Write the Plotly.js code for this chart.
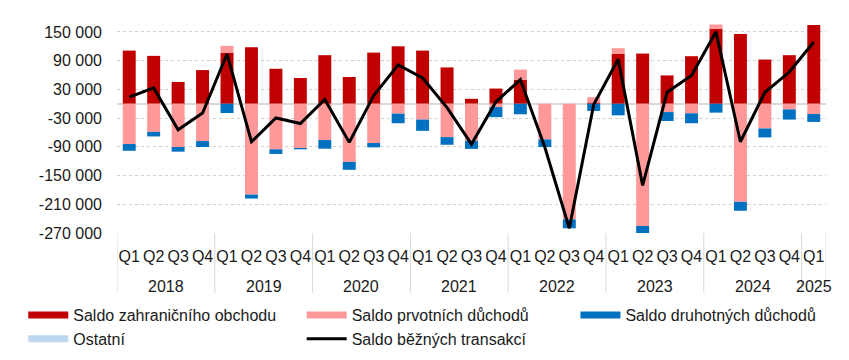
<!DOCTYPE html>
<html>
<head>
<meta charset="utf-8">
<script src="https://cdn.plot.ly/plotly-3.0.1.min.js"></script>
<style>html,body{margin:0;padding:0;background:#fff}#chart{width:849px;height:360px}</style>
</head>
<body>
<div id="chart"></div>
<script>
const years = ['2018','2018','2018','2018','2019','2019','2019','2019','2020','2020','2020','2020','2021','2021','2021','2021','2022','2022','2022','2022','2023','2023','2023','2023','2024','2024','2024','2024','2025'];
const quarters = ['Q1','Q2','Q3','Q4','Q1','Q2','Q3','Q4','Q1','Q2','Q3','Q4','Q1','Q2','Q3','Q4','Q1','Q2','Q3','Q4','Q1','Q2','Q3','Q4','Q1','Q2','Q3','Q4','Q1'];

const tradeBalance = [111000,100000,45500,70300, 106000,118000,73000,53800, 101400,55900,106800,120000, 111000,75800,10300,31700, 50300,0,0,2700, 104000,104800,59200,99300, 156500,145500,92300,101400, 164700];
const primaryIncome = [-84200,-58700,-90400,-78000, 15000,-189700,-95200,-92500, -75900,-121500,-82100,-20700, -33100,-69700,-77300,-7000, 21000,-74500,-241500,11000, 12000,-255300,-17400,-20000, 9000,-204900,-51700,-11800, -21500];
const secondaryIncome = [-14000,-9600,-9700,-12400, -19400,-8300,-9700,-2700, -18000,-16500,-9000,-20000, -23500,-16000,-17000,-21000, -22000,-16000,-18600,-15000, -24200,-15000,-18600,-20700, -18600,-18600,-18600,-21300, -16500];
const otherItems = [0,0,0,0, 0,0,0,0, 0,0,0,0, 0,0,0,0, 0,0,0,0, 0,0,0,0, 0,0,0,0, 0];
const currentAccount = [13700,33000,-54500,-19400, 104000,-79400,-29800,-41400, 8900,-80700,17200,81300, 53800,-8000,-84200,4000, 50300,-91000,-260000,-1500, 93000,-170500,24000,59200, 150200,-79400,24000,66200, 128900];

const seriesNames = ['Saldo zahraničního obchodu','Saldo prvotních důchodů','Saldo druhotných důchodů','Ostatní','Saldo běžných transakcí'];
const seriesColors = ['#C00000','#FF9999','#0070C0','#BDD7EE','#000000'];

const tickVals = [150000,90000,30000,-30000,-90000,-150000,-210000,-270000];
const tickText = ['150 000','90 000','30 000','-30 000','-90 000','-150 000','-210 000','-270 000'];

// positions along the category axis (one slot per quarter)
const idx = quarters.map((q, i) => i);
const barData = [tradeBalance, primaryIncome, secondaryIncome, otherItems];

const traces = [];
barData.forEach((vals, i) => {
  traces.push({
    type: 'bar', x: idx, y: vals, name: seriesNames[i],
    marker: {color: seriesColors[i]}, showlegend: false, hoverinfo: 'y'
  });
});
traces.push({
  type: 'scatter', mode: 'lines', x: idx, y: currentAccount, name: seriesNames[4],
  line: {color: '#000', width: 3}, showlegend: false
});
// legend entries (three columns)
const legendOf = ['legend', 'legend2', 'legend3', 'legend', 'legend2'];
[0,3,1,4,2].forEach(i => {
  traces.push({
    type: 'scatter', mode: 'lines', x: [0], y: [null],
    name: seriesNames[i], showlegend: true, hoverinfo: 'skip', legend: legendOf[i],
    line: {color: seriesColors[i], width: i === 4 ? 3 : 7}
  });
});

// year groups -> divider lines and group labels
const shapes = [];
const annotations = [];
const groupStarts = [];
years.forEach((y, i) => { if (i === 0 || years[i - 1] !== y) groupStarts.push(i); });
groupStarts.forEach((s, g) => {
  const e = g + 1 < groupStarts.length ? groupStarts[g + 1] : years.length;
  shapes.push({type: 'line', xref: 'x', yref: 'paper', x0: s - 0.5, x1: s - 0.5, y0: 0, y1: -0.28,
    line: {color: '#d9d9d9', width: 1}});
  annotations.push({xref: 'x', yref: 'paper', x: (s + e - 1) / 2, y: -0.248, yanchor: 'middle',
    text: years[s], showarrow: false, font: {size: 16, color: '#1a1a1a'}});
});
shapes.push({type: 'line', xref: 'x', yref: 'paper', x0: years.length - 0.5, x1: years.length - 0.5, y0: 0, y1: -0.28,
  line: {color: '#d9d9d9', width: 1}});

const legendBase = {orientation: 'v', yanchor: 'top', y: -0.3037, xanchor: 'left',
  itemwidth: 40, font: {size: 16, color: '#1a1a1a'}, tracegroupgap: 0, bgcolor: 'rgba(0,0,0,0)'};

const layout = {
  width: 849, height: 360,
  margin: {l: 117, r: 23, t: 19, b: 127, autoexpand: false},
  paper_bgcolor: '#fff', plot_bgcolor: '#fff',
  font: {family: 'Liberation Sans, Arial, sans-serif', size: 16, color: '#1a1a1a'},
  barmode: 'relative',
  bargap: 0.47,
  showlegend: true,
  legend: Object.assign({}, legendBase, {x: -0.1322}),
  legend2: Object.assign({}, legendBase, {x: 0.2605}),
  legend3: Object.assign({}, legendBase, {x: 0.6466}),
  shapes: shapes,
  annotations: annotations,
  xaxis: {
    range: [-0.5, years.length - 0.5], automargin: false,
    tickvals: idx, ticktext: quarters, tickangle: 0,
    showgrid: false, zeroline: false, showline: false,
    ticks: '', ticklabelstandoff: 12,
    tickfont: {size: 16, color: '#1a1a1a'}
  },
  yaxis: {
    range: [-270000, 177000], automargin: false,
    tickvals: tickVals, ticktext: tickText,
    showgrid: true, gridcolor: '#d0d0d0', griddash: 'dot', gridwidth: 1,
    zeroline: true, zerolinecolor: '#d9d9d9', zerolinewidth: 2,
    showline: false, ticks: '', ticklabelstandoff: 14,
    tickfont: {size: 16, color: '#1a1a1a'}
  }
};

Plotly.newPlot('chart', traces, layout, {displayModeBar: false, staticPlot: true});
</script>
</body>
</html>
